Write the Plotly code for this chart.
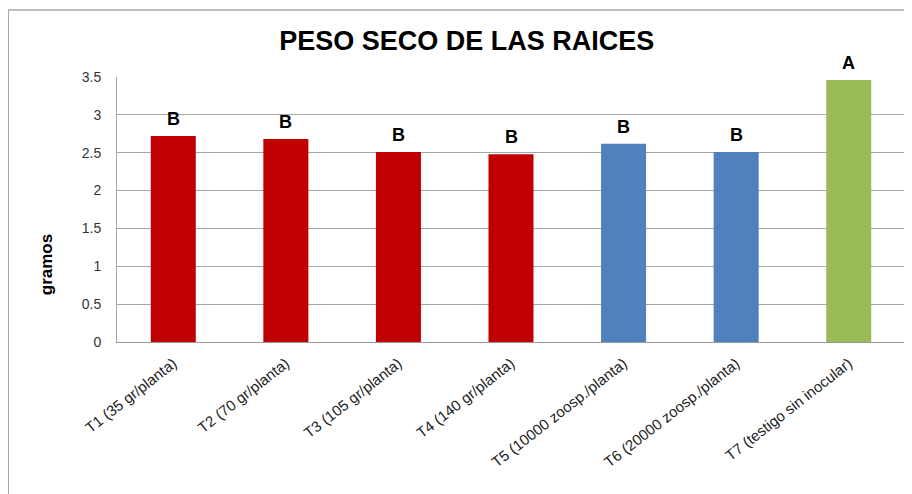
import plotly.graph_objects as go

categories = ["T1 (35 gr/planta)", "T2 (70 gr/planta)", "T3 (105 gr/planta)",
              "T4 (140 gr/planta)", "T5 (10000 zoosp./planta)",
              "T6 (20000 zoosp./planta)", "T7 (testigo sin inocular)"]
values = [2.72, 2.68, 2.51, 2.48, 2.62, 2.51, 3.46]
letters = ["B", "B", "B", "B", "B", "B", "A"]
colors = ["#C00000", "#C00000", "#C00000", "#C00000", "#4F81BD", "#4F81BD", "#9BBB59"]
y_ticks = [0, 0.5, 1, 1.5, 2, 2.5, 3, 3.5]
y_ticklabels = ["0", "0.5", "1", "1.5", "2", "2.5", "3", "3.5"]

fig = go.Figure()
fig.add_trace(go.Bar(x=categories, y=values, marker_color=colors,
                     marker_line_width=0, width=0.4, showlegend=False))

for c, v, t in zip(categories, values, letters):
    fig.add_annotation(x=c, y=v, text="<b>%s</b>" % t, showarrow=False,
                       yanchor="bottom", yshift=5,
                       font=dict(family="Liberation Sans", size=18, color="black"))

fig.add_annotation(xref="paper", yref="paper", x=-0.09, y=0.29, text="<b>gramos</b>",
                   textangle=-90, showarrow=False, xanchor="center", yanchor="middle",
                   font=dict(family="Liberation Sans", size=17, color="black"))

fig.update_layout(
    width=912, height=494,
    margin=dict(l=109, r=15, t=69, b=160),
    paper_bgcolor="white", plot_bgcolor="white",
    title=dict(text="<b>PESO SECO DE LAS RAICES</b>", x=0.503, xanchor="center",
               y=0.935, yanchor="middle",
               font=dict(family="Liberation Sans", size=27, color="black")),
    xaxis=dict(tickangle=-38, showline=True, linecolor="#999999", linewidth=1,
               ticks="", ticklabelstandoff=6,
               tickfont=dict(family="Liberation Sans", size=15, color="#222222"),
               showgrid=False),
    yaxis=dict(range=[0, 3.5], tickvals=y_ticks, ticktext=y_ticklabels,
               showgrid=True, gridcolor="#A6A6A6", gridwidth=1,
               showline=True, linecolor="#A6A6A6", linewidth=1, ticks="",
               ticklen=0, zeroline=False, ticklabelstandoff=12,
               tickfont=dict(family="Liberation Sans", size=14, color="#333333")),
    shapes=[dict(type="line", xref="paper", yref="paper", x0=-0.138, x1=-0.138,
                 y0=-0.7, y1=1.253, line=dict(color="#A6A6A6", width=1.5)),
            dict(type="line", xref="paper", yref="paper", x0=-0.138, x1=1.1,
                 y0=1.253, y1=1.253, line=dict(color="#A6A6A6", width=1.5))],
)

fig.write_html("out.html")
